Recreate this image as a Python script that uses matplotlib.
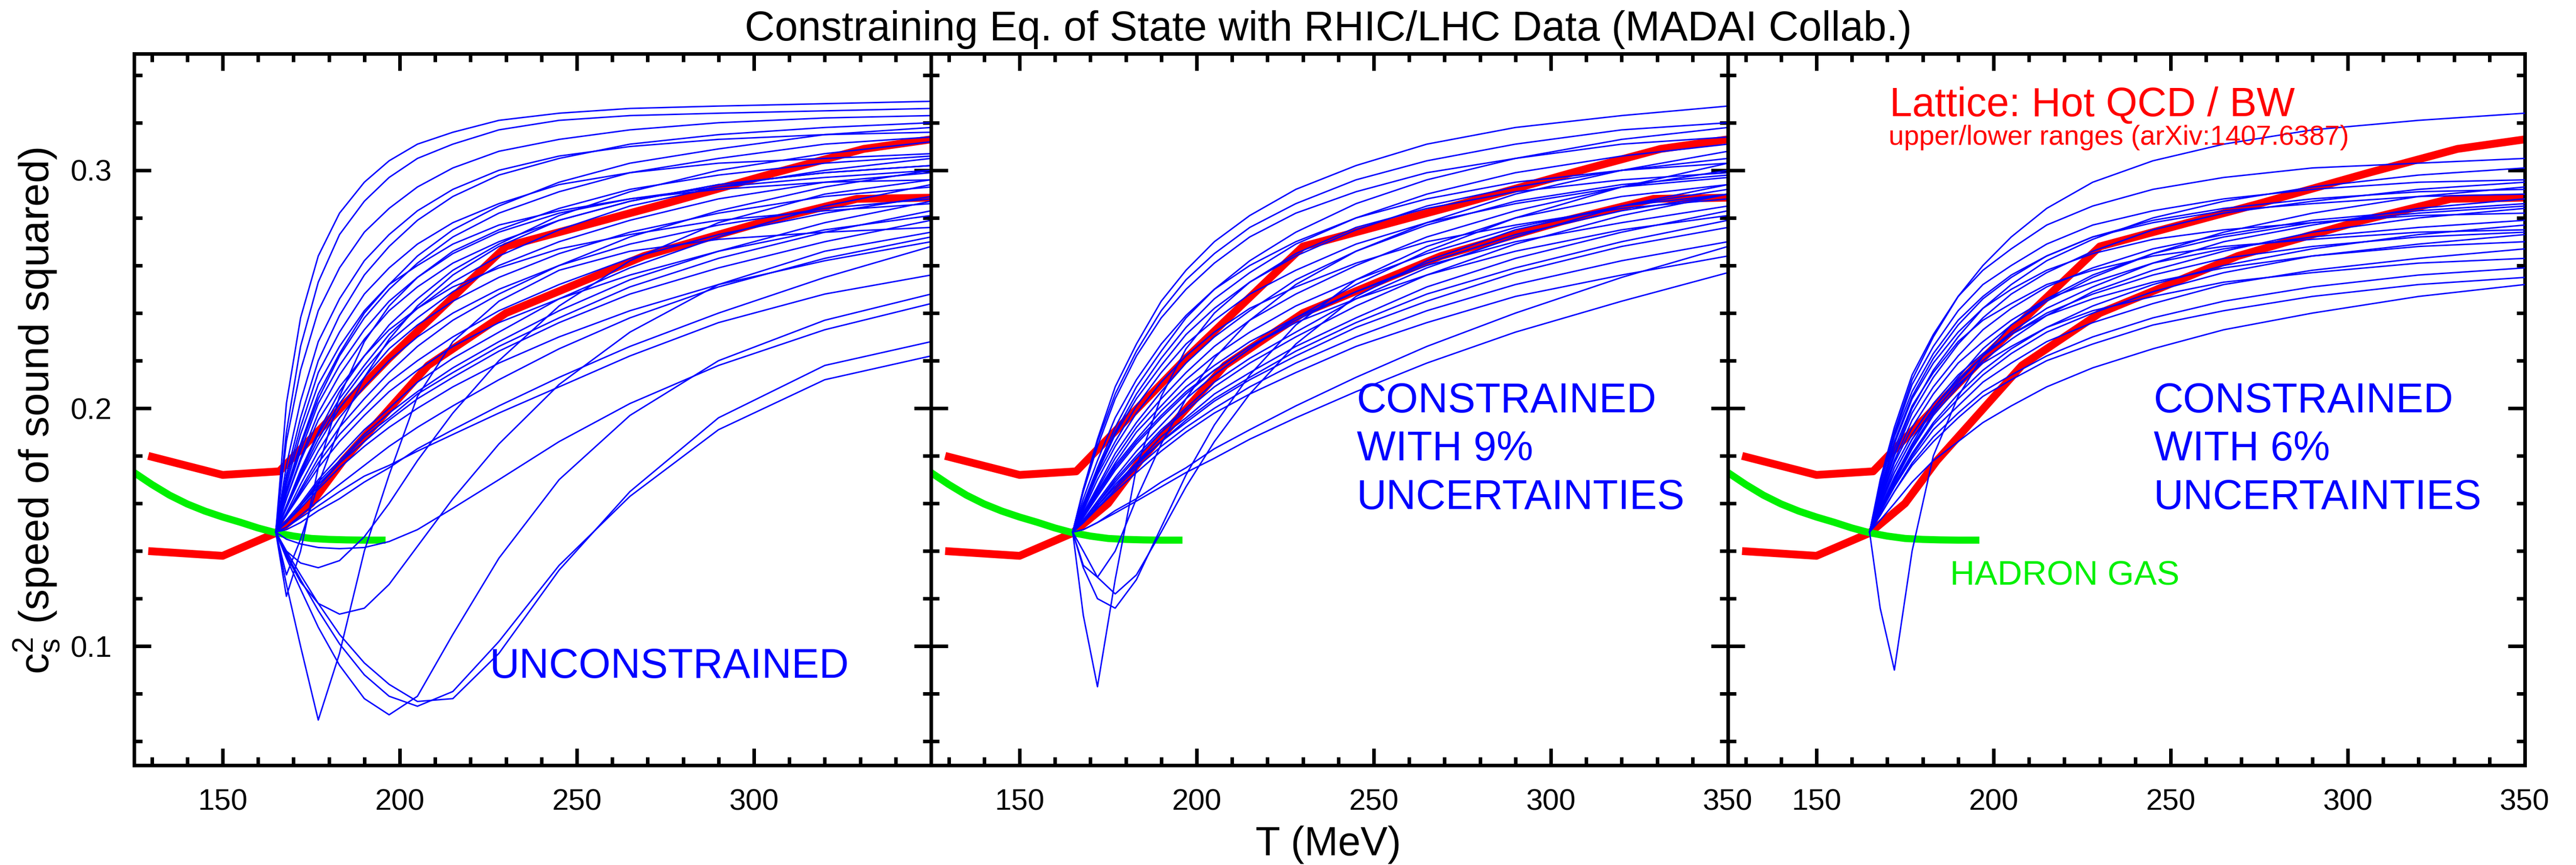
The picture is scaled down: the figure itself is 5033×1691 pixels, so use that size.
import matplotlib
matplotlib.use("Agg")
import matplotlib.pyplot as plt
from matplotlib.ticker import MultipleLocator

# temperature grid (MeV) shared by all model runs
T_GRID = [165, 168, 172, 177, 183, 190, 197, 205, 215, 228, 245, 265, 290, 320, 350]

# unconstrained model runs (c_s^2 read at T_GRID)
RUNS_UNCONSTRAINED = [
    [0.148, 0.202, 0.238, 0.264, 0.282, 0.295, 0.304, 0.311, 0.316, 0.321, 0.324, 0.326, 0.327, 0.328, 0.329],
    [0.148, 0.190, 0.226, 0.253, 0.273, 0.287, 0.297, 0.305, 0.311, 0.317, 0.321, 0.323, 0.324, 0.325, 0.326],
    [0.148, 0.186, 0.216, 0.241, 0.259, 0.274, 0.284, 0.293, 0.301, 0.308, 0.313, 0.317, 0.320, 0.322, 0.323],
    [0.148, 0.172, 0.196, 0.220, 0.239, 0.256, 0.268, 0.279, 0.289, 0.298, 0.305, 0.311, 0.315, 0.318, 0.320],
    [0.148, 0.176, 0.203, 0.228, 0.246, 0.262, 0.273, 0.283, 0.292, 0.300, 0.306, 0.310, 0.313, 0.315, 0.316],
    [0.148, 0.166, 0.185, 0.206, 0.223, 0.240, 0.252, 0.264, 0.275, 0.285, 0.295, 0.303, 0.309, 0.315, 0.318],
    [0.148, 0.165, 0.184, 0.204, 0.222, 0.238, 0.250, 0.261, 0.272, 0.282, 0.291, 0.299, 0.305, 0.311, 0.314],
    [0.148, 0.159, 0.174, 0.190, 0.207, 0.222, 0.235, 0.246, 0.258, 0.269, 0.281, 0.291, 0.300, 0.307, 0.312],
    [0.148, 0.170, 0.192, 0.215, 0.232, 0.248, 0.259, 0.269, 0.278, 0.286, 0.294, 0.299, 0.303, 0.305, 0.307],
    [0.148, 0.164, 0.182, 0.202, 0.218, 0.233, 0.245, 0.255, 0.266, 0.275, 0.284, 0.292, 0.298, 0.303, 0.306],
    [0.148, 0.159, 0.173, 0.189, 0.204, 0.218, 0.231, 0.242, 0.253, 0.264, 0.275, 0.285, 0.293, 0.300, 0.305],
    [0.148, 0.162, 0.179, 0.198, 0.214, 0.229, 0.241, 0.251, 0.261, 0.270, 0.279, 0.287, 0.294, 0.299, 0.302],
    [0.148, 0.155, 0.166, 0.179, 0.192, 0.204, 0.215, 0.226, 0.237, 0.248, 0.260, 0.272, 0.283, 0.293, 0.300],
    [0.148, 0.158, 0.172, 0.187, 0.202, 0.216, 0.228, 0.238, 0.249, 0.260, 0.270, 0.279, 0.288, 0.295, 0.299],
    [0.148, 0.168, 0.189, 0.210, 0.226, 0.241, 0.252, 0.260, 0.269, 0.277, 0.283, 0.288, 0.292, 0.295, 0.296],
    [0.148, 0.153, 0.160, 0.170, 0.180, 0.191, 0.200, 0.211, 0.221, 0.232, 0.246, 0.259, 0.272, 0.285, 0.294],
    [0.148, 0.158, 0.171, 0.185, 0.200, 0.213, 0.225, 0.235, 0.245, 0.255, 0.265, 0.274, 0.282, 0.289, 0.293],
    [0.148, 0.155, 0.165, 0.177, 0.189, 0.200, 0.211, 0.220, 0.230, 0.241, 0.252, 0.263, 0.273, 0.282, 0.289],
    [0.148, 0.156, 0.168, 0.182, 0.196, 0.209, 0.220, 0.230, 0.240, 0.250, 0.260, 0.269, 0.277, 0.284, 0.288],
    [0.148, 0.152, 0.159, 0.169, 0.178, 0.189, 0.198, 0.207, 0.217, 0.228, 0.241, 0.254, 0.266, 0.278, 0.287],
    [0.148, 0.162, 0.178, 0.195, 0.209, 0.222, 0.233, 0.242, 0.251, 0.259, 0.267, 0.273, 0.279, 0.283, 0.286],
    [0.148, 0.152, 0.159, 0.168, 0.177, 0.188, 0.196, 0.206, 0.215, 0.226, 0.238, 0.251, 0.263, 0.274, 0.283],
    [0.148, 0.155, 0.164, 0.175, 0.186, 0.197, 0.207, 0.216, 0.226, 0.236, 0.246, 0.256, 0.266, 0.275, 0.281],
    [0.148, 0.152, 0.159, 0.167, 0.177, 0.186, 0.195, 0.204, 0.213, 0.224, 0.236, 0.248, 0.259, 0.270, 0.279],
    [0.148, 0.150, 0.155, 0.161, 0.168, 0.176, 0.184, 0.192, 0.201, 0.212, 0.225, 0.238, 0.251, 0.263, 0.272],
    [0.148, 0.152, 0.158, 0.166, 0.175, 0.184, 0.192, 0.200, 0.209, 0.219, 0.230, 0.241, 0.252, 0.262, 0.270],
    [0.148, 0.149, 0.152, 0.157, 0.162, 0.169, 0.175, 0.183, 0.191, 0.201, 0.213, 0.226, 0.240, 0.255, 0.268],
    [0.148, 0.121, 0.140, 0.175, 0.205, 0.228, 0.243, 0.255, 0.265, 0.274, 0.282, 0.288, 0.293, 0.297, 0.300],
    [0.148, 0.130, 0.145, 0.168, 0.192, 0.213, 0.229, 0.243, 0.256, 0.268, 0.279, 0.287, 0.294, 0.299, 0.302],
    [0.148, 0.140, 0.135, 0.133, 0.136, 0.146, 0.160, 0.178, 0.198, 0.220, 0.243, 0.262, 0.278, 0.290, 0.296],
    [0.148, 0.126, 0.100, 0.069, 0.097, 0.140, 0.172, 0.205, 0.228, 0.245, 0.258, 0.266, 0.271, 0.274, 0.276],
    [0.148, 0.138, 0.127, 0.118, 0.1135, 0.116, 0.126, 0.142, 0.162, 0.185, 0.210, 0.232, 0.252, 0.266, 0.274],
    [0.148, 0.150, 0.154, 0.159, 0.165, 0.1715, 0.176, 0.182, 0.189, 0.198, 0.209, 0.222, 0.236, 0.248, 0.256],
    [0.148, 0.145, 0.143, 0.1415, 0.141, 0.1415, 0.144, 0.149, 0.158, 0.170, 0.186, 0.202, 0.218, 0.233, 0.244],
    [0.148, 0.137, 0.124, 0.108, 0.092, 0.078, 0.0712, 0.079, 0.105, 0.137, 0.170, 0.197, 0.220, 0.237, 0.248],
    [0.148, 0.139, 0.128, 0.115, 0.101, 0.088, 0.079, 0.0748, 0.081, 0.102, 0.134, 0.163, 0.191, 0.212, 0.222],
    [0.148, 0.140, 0.130, 0.118, 0.105, 0.093, 0.084, 0.0768, 0.078, 0.097, 0.132, 0.165, 0.196, 0.218, 0.228],
]

# runs constrained with 9% uncertainties
RUNS_9PCT = [
    [0.148, 0.166, 0.187, 0.209, 0.227, 0.245, 0.258, 0.270, 0.281, 0.292, 0.302, 0.311, 0.318, 0.323, 0.327],
    [0.148, 0.166, 0.186, 0.206, 0.224, 0.241, 0.254, 0.265, 0.276, 0.286, 0.296, 0.304, 0.311, 0.317, 0.320],
    [0.148, 0.160, 0.175, 0.192, 0.209, 0.224, 0.238, 0.250, 0.262, 0.274, 0.286, 0.296, 0.305, 0.313, 0.318],
    [0.148, 0.165, 0.184, 0.204, 0.222, 0.238, 0.250, 0.261, 0.272, 0.282, 0.291, 0.299, 0.305, 0.311, 0.314],
    [0.148, 0.159, 0.174, 0.190, 0.206, 0.221, 0.234, 0.246, 0.257, 0.269, 0.280, 0.290, 0.299, 0.306, 0.311],
    [0.148, 0.156, 0.167, 0.181, 0.194, 0.207, 0.219, 0.230, 0.241, 0.254, 0.266, 0.278, 0.290, 0.300, 0.308],
    [0.148, 0.159, 0.173, 0.189, 0.204, 0.218, 0.231, 0.242, 0.253, 0.264, 0.275, 0.285, 0.293, 0.300, 0.305],
    [0.148, 0.162, 0.178, 0.196, 0.212, 0.227, 0.239, 0.250, 0.260, 0.270, 0.280, 0.288, 0.295, 0.300, 0.303],
    [0.148, 0.153, 0.161, 0.171, 0.182, 0.193, 0.204, 0.214, 0.225, 0.238, 0.252, 0.266, 0.280, 0.293, 0.303],
    [0.148, 0.155, 0.166, 0.179, 0.192, 0.204, 0.215, 0.226, 0.237, 0.248, 0.260, 0.272, 0.283, 0.293, 0.300],
    [0.148, 0.158, 0.172, 0.186, 0.201, 0.215, 0.227, 0.237, 0.248, 0.258, 0.269, 0.278, 0.286, 0.293, 0.297],
    [0.148, 0.153, 0.160, 0.170, 0.180, 0.191, 0.200, 0.211, 0.221, 0.232, 0.246, 0.259, 0.272, 0.285, 0.294],
    [0.148, 0.155, 0.165, 0.177, 0.190, 0.201, 0.212, 0.222, 0.232, 0.243, 0.254, 0.265, 0.276, 0.285, 0.292],
    [0.148, 0.154, 0.163, 0.174, 0.185, 0.196, 0.206, 0.216, 0.226, 0.237, 0.249, 0.261, 0.273, 0.283, 0.290],
    [0.148, 0.153, 0.160, 0.169, 0.179, 0.190, 0.199, 0.209, 0.219, 0.230, 0.243, 0.256, 0.269, 0.281, 0.290],
    [0.148, 0.157, 0.170, 0.184, 0.198, 0.211, 0.222, 0.232, 0.242, 0.251, 0.261, 0.270, 0.277, 0.284, 0.288],
    [0.148, 0.155, 0.164, 0.176, 0.187, 0.199, 0.209, 0.218, 0.228, 0.238, 0.249, 0.260, 0.270, 0.278, 0.285],
    [0.148, 0.152, 0.159, 0.168, 0.177, 0.188, 0.196, 0.206, 0.215, 0.226, 0.238, 0.251, 0.263, 0.274, 0.283],
    [0.148, 0.155, 0.164, 0.175, 0.186, 0.197, 0.207, 0.216, 0.226, 0.236, 0.246, 0.256, 0.266, 0.275, 0.281],
    [0.148, 0.152, 0.159, 0.167, 0.177, 0.186, 0.195, 0.204, 0.213, 0.224, 0.236, 0.248, 0.259, 0.270, 0.279],
    [0.148, 0.152, 0.159, 0.167, 0.176, 0.186, 0.194, 0.203, 0.212, 0.222, 0.234, 0.245, 0.257, 0.268, 0.276],
    [0.148, 0.152, 0.158, 0.166, 0.175, 0.184, 0.192, 0.200, 0.209, 0.219, 0.230, 0.241, 0.252, 0.262, 0.270],
    [0.148, 0.149, 0.152, 0.157, 0.162, 0.169, 0.175, 0.183, 0.191, 0.201, 0.213, 0.226, 0.240, 0.255, 0.268],
    [0.148, 0.152, 0.158, 0.165, 0.173, 0.182, 0.190, 0.198, 0.206, 0.215, 0.226, 0.236, 0.247, 0.256, 0.264],
    [0.148, 0.149, 0.152, 0.156, 0.161, 0.167, 0.173, 0.179, 0.187, 0.196, 0.207, 0.219, 0.232, 0.245, 0.257],
    [0.148, 0.113, 0.083, 0.128, 0.175, 0.205, 0.225, 0.240, 0.253, 0.265, 0.276, 0.284, 0.291, 0.296, 0.299],
    [0.148, 0.133, 0.120, 0.116, 0.128, 0.150, 0.172, 0.193, 0.214, 0.235, 0.254, 0.268, 0.280, 0.289, 0.294],
    [0.148, 0.140, 0.129, 0.122, 0.130, 0.148, 0.167, 0.186, 0.206, 0.227, 0.247, 0.262, 0.275, 0.285, 0.290],
    [0.148, 0.134, 0.129, 0.140, 0.162, 0.185, 0.204, 0.221, 0.237, 0.252, 0.266, 0.277, 0.287, 0.294, 0.298],
]

# runs constrained with 6% uncertainties
RUNS_6PCT = [
    [0.148, 0.168, 0.190, 0.212, 0.230, 0.247, 0.260, 0.272, 0.284, 0.295, 0.304, 0.311, 0.317, 0.321, 0.324],
    [0.148, 0.170, 0.192, 0.214, 0.231, 0.247, 0.258, 0.267, 0.277, 0.285, 0.292, 0.297, 0.301, 0.303, 0.305],
    [0.148, 0.164, 0.181, 0.200, 0.216, 0.230, 0.242, 0.252, 0.262, 0.271, 0.280, 0.287, 0.293, 0.298, 0.301],
    [0.148, 0.168, 0.189, 0.210, 0.226, 0.241, 0.252, 0.260, 0.269, 0.277, 0.283, 0.288, 0.292, 0.295, 0.296],
    [0.148, 0.163, 0.180, 0.198, 0.213, 0.227, 0.238, 0.248, 0.257, 0.266, 0.275, 0.282, 0.287, 0.292, 0.295],
    [0.148, 0.158, 0.171, 0.185, 0.200, 0.213, 0.225, 0.235, 0.245, 0.255, 0.265, 0.274, 0.282, 0.289, 0.293],
    [0.148, 0.166, 0.186, 0.205, 0.221, 0.235, 0.246, 0.255, 0.264, 0.272, 0.279, 0.284, 0.288, 0.291, 0.292],
    [0.148, 0.168, 0.188, 0.207, 0.223, 0.237, 0.247, 0.256, 0.264, 0.272, 0.278, 0.283, 0.286, 0.289, 0.290],
    [0.148, 0.157, 0.170, 0.184, 0.198, 0.211, 0.222, 0.232, 0.242, 0.251, 0.261, 0.270, 0.277, 0.284, 0.288],
    [0.148, 0.162, 0.178, 0.195, 0.209, 0.222, 0.233, 0.242, 0.251, 0.259, 0.267, 0.273, 0.279, 0.283, 0.286],
    [0.148, 0.157, 0.169, 0.183, 0.197, 0.209, 0.220, 0.229, 0.239, 0.249, 0.258, 0.266, 0.274, 0.280, 0.284],
    [0.148, 0.166, 0.185, 0.204, 0.219, 0.232, 0.242, 0.250, 0.258, 0.265, 0.271, 0.275, 0.278, 0.281, 0.282],
    [0.148, 0.161, 0.177, 0.192, 0.206, 0.219, 0.228, 0.237, 0.246, 0.253, 0.261, 0.267, 0.272, 0.276, 0.279],
    [0.148, 0.157, 0.168, 0.181, 0.194, 0.206, 0.216, 0.225, 0.234, 0.243, 0.252, 0.260, 0.267, 0.273, 0.277],
    [0.148, 0.165, 0.183, 0.201, 0.215, 0.228, 0.237, 0.244, 0.252, 0.258, 0.264, 0.268, 0.271, 0.274, 0.275],
    [0.148, 0.159, 0.173, 0.187, 0.200, 0.212, 0.222, 0.231, 0.240, 0.248, 0.256, 0.263, 0.268, 0.272, 0.274],
    [0.148, 0.157, 0.168, 0.180, 0.193, 0.204, 0.214, 0.223, 0.232, 0.240, 0.249, 0.257, 0.264, 0.269, 0.273],
    [0.148, 0.160, 0.175, 0.189, 0.202, 0.214, 0.223, 0.231, 0.239, 0.246, 0.253, 0.259, 0.264, 0.268, 0.270],
    [0.148, 0.156, 0.167, 0.179, 0.191, 0.201, 0.211, 0.219, 0.228, 0.236, 0.244, 0.252, 0.258, 0.263, 0.267],
    [0.148, 0.160, 0.173, 0.187, 0.199, 0.210, 0.219, 0.226, 0.234, 0.241, 0.247, 0.253, 0.257, 0.261, 0.263],
    [0.148, 0.155, 0.165, 0.177, 0.188, 0.198, 0.207, 0.214, 0.222, 0.230, 0.238, 0.245, 0.251, 0.256, 0.259],
    [0.148, 0.155, 0.165, 0.176, 0.186, 0.196, 0.205, 0.212, 0.220, 0.227, 0.235, 0.241, 0.247, 0.252, 0.255],
    [0.148, 0.153, 0.160, 0.169, 0.178, 0.186, 0.194, 0.201, 0.209, 0.217, 0.225, 0.233, 0.240, 0.247, 0.252],
    [0.148, 0.116, 0.090, 0.140, 0.180, 0.205, 0.222, 0.235, 0.246, 0.256, 0.265, 0.272, 0.278, 0.282, 0.285],
]

# lattice QCD upper / lower ranges
LATTICE_UP_T = [129, 150, 166, 197, 230, 275, 306, 331, 350]
LATTICE_UP = [0.180, 0.172, 0.1735, 0.221, 0.268, 0.286, 0.299, 0.309, 0.313]
LATTICE_LO_T = [129, 150, 165, 175, 184, 208, 230, 269, 303, 329, 350]
LATTICE_LO = [0.140, 0.138, 0.1476, 0.160, 0.178, 0.218, 0.240, 0.264, 0.2785, 0.288, 0.2885]

# hadron resonance gas
HADRON_T = [124, 130, 135, 140, 145, 150, 155, 160, 165, 170, 175, 180, 185, 190, 196]
HADRON = [0.174, 0.168, 0.1635, 0.1598, 0.1568, 0.1543, 0.1521, 0.1497, 0.1477, 0.1463, 0.1453,
          0.1449, 0.1447, 0.1446, 0.1446]

W, H = 5033, 1691
plt.rcParams['font.family'] = ['Liberation Sans', 'DejaVu Sans']
plt.rcParams['mathtext.fontset'] = 'custom'
plt.rcParams['mathtext.rm'] = 'Liberation Sans'
plt.rcParams['mathtext.it'] = 'Liberation Sans'

fig = plt.figure(figsize=(W / 100, H / 100), dpi=100)

BLUE = '#0000ff'
RED = '#ff0000'
GREEN = '#00f000'

panels = [RUNS_UNCONSTRAINED, RUNS_9PCT, RUNS_6PCT]
left0, top0, pw, ph = 262, 105, 1557, 1391

for i, runs in enumerate(panels):
    ax = fig.add_axes([(left0 + i * pw) / W, 1 - (top0 + ph) / H, pw / W, ph / H])
    ax.plot(LATTICE_UP_T, LATTICE_UP, color=RED, lw=11, solid_capstyle='butt', zorder=2)
    ax.plot(LATTICE_LO_T, LATTICE_LO, color=RED, lw=11, solid_capstyle='butt', zorder=2)
    ax.plot(HADRON_T, HADRON, color=GREEN, lw=10, solid_capstyle='butt', zorder=2)
    for run in runs:
        ax.plot(T_GRID, run, color=BLUE, lw=2.0, zorder=3)

    ax.set_xlim(125, 350)
    ax.set_ylim(0.05, 0.349)
    ax.set_xticks([150, 200, 250, 300, 350])
    if i == 0:
        ax.set_xticklabels(['150', '200', '250', '300', ''])
    ax.xaxis.set_minor_locator(MultipleLocator(10))
    ax.set_yticks([0.1, 0.2, 0.3])
    ax.yaxis.set_minor_locator(MultipleLocator(0.02))
    if i == 0:
        ax.set_yticklabels(['0.1', '0.2', '0.3'])
    else:
        ax.set_yticklabels([])
    ax.tick_params(which='both', direction='in', top=True, right=True, width=5,
                   labelsize=42, color='black')
    ax.tick_params(which='major', length=24)
    ax.tick_params(which='minor', length=11.5)
    ax.tick_params(axis='x', pad=33)
    ax.tick_params(axis='y', pad=31)
    for sp in ax.spines.values():
        sp.set_linewidth(5)


def ftext(x, y, s, **kw):
    fig.text(x / W, 1 - y / H, s, va='baseline', **kw)


ftext(2595, 79, 'Constraining Eq. of State with RHIC/LHC Data (MADAI Collab.)',
      ha='center', fontsize=58.5)
ftext(2595, 1672, 'T (MeV)', ha='center', fontsize=57)
fig.text(72 / W, 1 - 803 / H, r'$\mathrm{c_s^2}$ (speed of sound squared)', rotation=90,
         ha='center', va='center', fontsize=59)

ftext(957, 1325, 'UNCONSTRAINED', color=BLUE, fontsize=58)
for dx, pct in [(0, '9%'), (pw, '6%')]:
    ftext(2651 + dx, 806, 'CONSTRAINED', color=BLUE, fontsize=58)
    ftext(2651 + dx, 900, 'WITH ' + pct, color=BLUE, fontsize=58)
    ftext(2651 + dx, 995, 'UNCERTAINTIES', color=BLUE, fontsize=58)

ftext(3692, 227, 'Lattice: Hot QCD / BW', color=RED, fontsize=57)
ftext(3690, 283, 'upper/lower ranges (arXiv:1407.6387)', color=RED, fontsize=38.5)
ftext(3810, 1143, 'HADRON GAS', color=GREEN, fontsize=48)

fig.savefig('out.png', dpi=100)
